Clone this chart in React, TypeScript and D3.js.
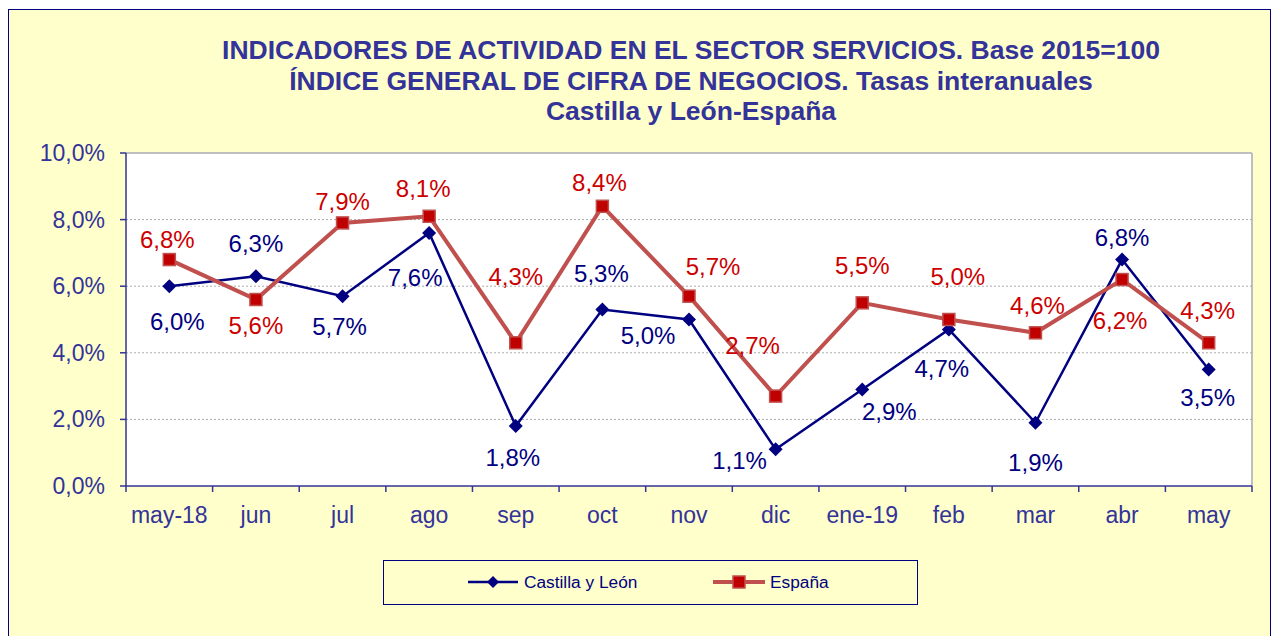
import React from 'react';
import * as d3 from 'd3';

const categories = ['may-18', 'jun', 'jul', 'ago', 'sep', 'oct', 'nov', 'dic', 'ene-19', 'feb', 'mar', 'abr', 'may'];
const castillaLeon = [6.0, 6.3, 5.7, 7.6, 1.8, 5.3, 5.0, 1.1, 2.9, 4.7, 1.9, 6.8, 3.5];
const espana = [6.8, 5.6, 7.9, 8.1, 4.3, 8.4, 5.7, 2.7, 5.5, 5.0, 4.6, 6.2, 4.3];
const yTicks = [0, 2, 4, 6, 8, 10];
const titleLines = [
  'INDICADORES DE ACTIVIDAD EN EL SECTOR SERVICIOS. Base 2015=100',
  'ÍNDICE GENERAL DE CIFRA DE NEGOCIOS. Tasas interanuales',
  'Castilla y León-España',
];

// label placement offsets (px) relative to the marker
const clLabelOffsets: [number, number][] = [
  [8, 35], [0, -33], [-3, 30], [-14, 45], [-3, 32], [-1, -36], [-41, 16],
  [-36, 11], [27, 22], [-7, 39], [0, 40], [0, -22], [-1, 28],
];
const esLabelOffsets: [number, number][] = [
  [-2, -20], [0, 26], [0, -21], [-6, -28], [0, -66], [-3, -24], [24, -30],
  [-23, -50], [0, -37], [9, -43], [2, -27], [-2, 41], [-1, -32],
];

const fmt = (v: number) => v.toFixed(1).replace('.', ',') + '%';

export default function App() {
  const W = 1275, H = 636;
  const left = 126, right = 1252, top = 153, bottom = 486;
  const x = d3.scaleBand<string>().domain(categories).range([left, right]);
  const y = d3.scaleLinear().domain([0, 10]).range([bottom, top]);
  const cx = (c: string) => (x(c) as number) + x.bandwidth() / 2;
  const line = d3.line<number>().x((_, i) => cx(categories[i])).y((v) => y(v));
  const axisColor = '#333399';
  const font = 'Liberation Sans, Arial, sans-serif';
  const clColor = '#000080';
  const esLine = '#C0504D';
  const esMarker = '#C00000';
  const esText = '#CC0000';

  return (
    <svg width={W} height={H} style={{ position: 'absolute', left: 0, top: 0 }} fontFamily={font}>
      <rect x={0} y={0} width={W} height={H} fill="#ffffff" />
      <rect x={8.5} y={9.5} width={1262} height={640} fill="#FFFFCC" stroke="#000080" strokeWidth={1} />
      {titleLines.map((t, i) => (
        <text key={i} x={691} y={59 + i * 30.5} textAnchor="middle" fontSize={26.5} fontWeight="bold" fill={axisColor}>
          {t}
        </text>
      ))}
      {/* plot area */}
      <rect x={left} y={top} width={right - left} height={bottom - top} fill="#ffffff" />
      <line x1={left} x2={right} y1={top} y2={top} stroke="#BFBFBF" strokeWidth={2} />
      <line x1={right} x2={right} y1={top} y2={bottom} stroke="#BFBFBF" strokeWidth={2} />
      {yTicks.filter((t) => t > 0 && t < 10).map((t) => (
        <line key={t} x1={left} x2={right} y1={y(t)} y2={y(t)} stroke="#AAAAAA" strokeWidth={1} strokeDasharray="2,2" />
      ))}
      {/* y axis */}
      <line x1={left} x2={left} y1={top} y2={bottom} stroke={axisColor} strokeWidth={1.5} />
      {yTicks.map((t) => (
        <g key={t}>
          <line x1={left - 6} x2={left} y1={y(t)} y2={y(t)} stroke={axisColor} strokeWidth={1.5} />
          <text x={left - 21} y={y(t)} dy="0.35em" textAnchor="end" fontSize={23} fill={axisColor}>
            {fmt(t)}
          </text>
        </g>
      ))}
      {/* x axis */}
      <line x1={left} x2={right} y1={bottom} y2={bottom} stroke={axisColor} strokeWidth={1.5} />
      {categories.map((c, i) => (
        <line key={'t' + i} x1={x(c) as number} x2={x(c) as number} y1={bottom} y2={bottom + 6} stroke={axisColor} strokeWidth={1.5} />
      ))}
      <line x1={right} x2={right} y1={bottom} y2={bottom + 6} stroke={axisColor} strokeWidth={1.5} />
      {categories.map((c) => (
        <text key={c} x={cx(c)} y={515} dy="0.35em" textAnchor="middle" fontSize={23} fill={axisColor}>
          {c}
        </text>
      ))}
      {/* series */}
      <path d={line(castillaLeon) || ''} fill="none" stroke={clColor} strokeWidth={2.5} />
      <path d={line(espana) || ''} fill="none" stroke={esLine} strokeWidth={4} />
      {castillaLeon.map((v, i) => {
        const px = cx(categories[i]), py = y(v);
        return <path key={'cm' + i} d={`M${px},${py - 7}L${px + 7},${py}L${px},${py + 7}L${px - 7},${py}Z`} fill={clColor} />;
      })}
      {espana.map((v, i) => {
        const px = cx(categories[i]), py = y(v);
        return <rect key={'em' + i} x={px - 6} y={py - 6} width={12} height={12} fill={esMarker} stroke={esLine} strokeWidth={1.5} />;
      })}
      {castillaLeon.map((v, i) => (
        <text key={'cl' + i} x={cx(categories[i]) + clLabelOffsets[i][0]} y={y(v) + clLabelOffsets[i][1]} dy="0.35em" textAnchor="middle" fontSize={24} fill={clColor}>
          {fmt(v)}
        </text>
      ))}
      {espana.map((v, i) => (
        <text key={'el' + i} x={cx(categories[i]) + esLabelOffsets[i][0]} y={y(v) + esLabelOffsets[i][1]} dy="0.35em" textAnchor="middle" fontSize={24} fill={esText}>
          {fmt(v)}
        </text>
      ))}
      {/* legend */}
      <rect x={383.5} y={560.5} width={534} height={44} fill="#FFFFCC" stroke="#000080" strokeWidth={1} />
      <line x1={468} x2={518} y1={582} y2={582} stroke={clColor} strokeWidth={2.5} />
      <path d="M493,576L499,582L493,588L487,582Z" fill={clColor} />
      <text x={524} y={582} dy="0.35em" fontSize={17.3} fill={clColor}>Castilla y León</text>
      <line x1={713} x2={765} y1={582} y2={582} stroke={esLine} strokeWidth={4} />
      <rect x={733} y={576} width={12} height={12} fill={esMarker} stroke={esLine} strokeWidth={1.5} />
      <text x={770} y={582} dy="0.35em" fontSize={17.3} fill={clColor}>España</text>
    </svg>
  );
}
